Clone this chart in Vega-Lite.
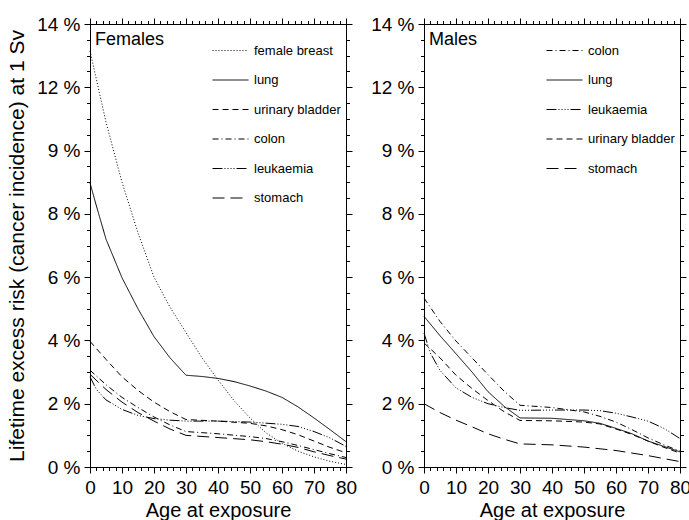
{
  "$schema": "https://vega.github.io/schema/vega-lite/v6.json",
  "padding": {"left": 6, "top": 14, "right": 0, "bottom": 3},
  "config": {
    "font": "Liberation Sans",
    "view": {"stroke": "black", "strokeWidth": 1},
    "axis": {"domainColor": "black", "tickColor": "black", "labelColor": "black", "titleColor": "black", "grid": false, "titleFontWeight": "normal", "domainWidth": 1, "tickWidth": 1},
    "legend": {"orient": "none", "title": null, "symbolType": "stroke", "symbolStrokeWidth": 1, "symbolStrokeColor": "black", "symbolSize": 1296, "labelFontSize": 13, "labelColor": "black", "labelFont": "Liberation Sans", "labelOffset": 5},
    "title": {"fontWeight": "normal", "color": "black", "fontSize": 18, "anchor": "start", "frame": "group"}
  },
  "datasets": {
    "risk": [
      {"sex":"Females","cancer":"female breast","age":0,"risk":13.15},
      {"sex":"Females","cancer":"female breast","age":5,"risk":10.9},
      {"sex":"Females","cancer":"female breast","age":10,"risk":9.0},
      {"sex":"Females","cancer":"female breast","age":15,"risk":7.4},
      {"sex":"Females","cancer":"female breast","age":20,"risk":6.0},
      {"sex":"Females","cancer":"female breast","age":25,"risk":5.05},
      {"sex":"Females","cancer":"female breast","age":30,"risk":4.25},
      {"sex":"Females","cancer":"female breast","age":35,"risk":3.45},
      {"sex":"Females","cancer":"female breast","age":40,"risk":2.75},
      {"sex":"Females","cancer":"female breast","age":45,"risk":2.1},
      {"sex":"Females","cancer":"female breast","age":50,"risk":1.55},
      {"sex":"Females","cancer":"female breast","age":55,"risk":1.08},
      {"sex":"Females","cancer":"female breast","age":60,"risk":0.75},
      {"sex":"Females","cancer":"female breast","age":65,"risk":0.5},
      {"sex":"Females","cancer":"female breast","age":70,"risk":0.32},
      {"sex":"Females","cancer":"female breast","age":75,"risk":0.18},
      {"sex":"Females","cancer":"female breast","age":80,"risk":0.08},

      {"sex":"Females","cancer":"lung","age":0,"risk":8.98},
      {"sex":"Females","cancer":"lung","age":2,"risk":8.25},
      {"sex":"Females","cancer":"lung","age":5,"risk":7.2},
      {"sex":"Females","cancer":"lung","age":10,"risk":5.98},
      {"sex":"Females","cancer":"lung","age":15,"risk":5.0},
      {"sex":"Females","cancer":"lung","age":20,"risk":4.12},
      {"sex":"Females","cancer":"lung","age":25,"risk":3.45},
      {"sex":"Females","cancer":"lung","age":30,"risk":2.9},
      {"sex":"Females","cancer":"lung","age":35,"risk":2.86},
      {"sex":"Females","cancer":"lung","age":40,"risk":2.8},
      {"sex":"Females","cancer":"lung","age":45,"risk":2.7},
      {"sex":"Females","cancer":"lung","age":50,"risk":2.56},
      {"sex":"Females","cancer":"lung","age":55,"risk":2.4},
      {"sex":"Females","cancer":"lung","age":60,"risk":2.2},
      {"sex":"Females","cancer":"lung","age":65,"risk":1.9},
      {"sex":"Females","cancer":"lung","age":70,"risk":1.55},
      {"sex":"Females","cancer":"lung","age":75,"risk":1.18},
      {"sex":"Females","cancer":"lung","age":80,"risk":0.8},

      {"sex":"Females","cancer":"urinary bladder","age":0,"risk":3.97},
      {"sex":"Females","cancer":"urinary bladder","age":5,"risk":3.4},
      {"sex":"Females","cancer":"urinary bladder","age":10,"risk":2.85},
      {"sex":"Females","cancer":"urinary bladder","age":15,"risk":2.42},
      {"sex":"Females","cancer":"urinary bladder","age":20,"risk":2.05},
      {"sex":"Females","cancer":"urinary bladder","age":25,"risk":1.75},
      {"sex":"Females","cancer":"urinary bladder","age":30,"risk":1.5},
      {"sex":"Females","cancer":"urinary bladder","age":40,"risk":1.45},
      {"sex":"Females","cancer":"urinary bladder","age":50,"risk":1.38},
      {"sex":"Females","cancer":"urinary bladder","age":55,"risk":1.3},
      {"sex":"Females","cancer":"urinary bladder","age":60,"risk":1.18},
      {"sex":"Females","cancer":"urinary bladder","age":65,"risk":1.02},
      {"sex":"Females","cancer":"urinary bladder","age":70,"risk":0.82},
      {"sex":"Females","cancer":"urinary bladder","age":75,"risk":0.62},
      {"sex":"Females","cancer":"urinary bladder","age":80,"risk":0.45},

      {"sex":"Females","cancer":"colon","age":0,"risk":3.06},
      {"sex":"Females","cancer":"colon","age":5,"risk":2.6},
      {"sex":"Females","cancer":"colon","age":10,"risk":2.2},
      {"sex":"Females","cancer":"colon","age":15,"risk":1.88},
      {"sex":"Females","cancer":"colon","age":20,"risk":1.58},
      {"sex":"Females","cancer":"colon","age":25,"risk":1.33},
      {"sex":"Females","cancer":"colon","age":30,"risk":1.12},
      {"sex":"Females","cancer":"colon","age":40,"risk":1.05},
      {"sex":"Females","cancer":"colon","age":50,"risk":0.96},
      {"sex":"Females","cancer":"colon","age":55,"risk":0.9},
      {"sex":"Females","cancer":"colon","age":60,"risk":0.8},
      {"sex":"Females","cancer":"colon","age":65,"risk":0.68},
      {"sex":"Females","cancer":"colon","age":70,"risk":0.55},
      {"sex":"Females","cancer":"colon","age":75,"risk":0.42},
      {"sex":"Females","cancer":"colon","age":80,"risk":0.3},

      {"sex":"Females","cancer":"leukaemia","age":0,"risk":2.85},
      {"sex":"Females","cancer":"leukaemia","age":2,"risk":2.45},
      {"sex":"Females","cancer":"leukaemia","age":5,"risk":2.12},
      {"sex":"Females","cancer":"leukaemia","age":10,"risk":1.82},
      {"sex":"Females","cancer":"leukaemia","age":15,"risk":1.63},
      {"sex":"Females","cancer":"leukaemia","age":20,"risk":1.53},
      {"sex":"Females","cancer":"leukaemia","age":25,"risk":1.48},
      {"sex":"Females","cancer":"leukaemia","age":30,"risk":1.45},
      {"sex":"Females","cancer":"leukaemia","age":40,"risk":1.45},
      {"sex":"Females","cancer":"leukaemia","age":50,"risk":1.42},
      {"sex":"Females","cancer":"leukaemia","age":60,"risk":1.35},
      {"sex":"Females","cancer":"leukaemia","age":65,"risk":1.28},
      {"sex":"Females","cancer":"leukaemia","age":70,"risk":1.12},
      {"sex":"Females","cancer":"leukaemia","age":75,"risk":0.92},
      {"sex":"Females","cancer":"leukaemia","age":80,"risk":0.65},

      {"sex":"Females","cancer":"stomach","age":0,"risk":2.93},
      {"sex":"Females","cancer":"stomach","age":5,"risk":2.45},
      {"sex":"Females","cancer":"stomach","age":10,"risk":2.05},
      {"sex":"Females","cancer":"stomach","age":15,"risk":1.72},
      {"sex":"Females","cancer":"stomach","age":20,"risk":1.45},
      {"sex":"Females","cancer":"stomach","age":25,"risk":1.2},
      {"sex":"Females","cancer":"stomach","age":30,"risk":1.0},
      {"sex":"Females","cancer":"stomach","age":40,"risk":0.93},
      {"sex":"Females","cancer":"stomach","age":50,"risk":0.86},
      {"sex":"Females","cancer":"stomach","age":55,"risk":0.8},
      {"sex":"Females","cancer":"stomach","age":60,"risk":0.72},
      {"sex":"Females","cancer":"stomach","age":65,"risk":0.62},
      {"sex":"Females","cancer":"stomach","age":70,"risk":0.48},
      {"sex":"Females","cancer":"stomach","age":75,"risk":0.36},
      {"sex":"Females","cancer":"stomach","age":80,"risk":0.25},

      {"sex":"Males","cancer":"colon","age":0,"risk":5.34},
      {"sex":"Males","cancer":"colon","age":5,"risk":4.6},
      {"sex":"Males","cancer":"colon","age":10,"risk":3.98},
      {"sex":"Males","cancer":"colon","age":15,"risk":3.45},
      {"sex":"Males","cancer":"colon","age":20,"risk":2.92},
      {"sex":"Males","cancer":"colon","age":25,"risk":2.4},
      {"sex":"Males","cancer":"colon","age":30,"risk":1.95},
      {"sex":"Males","cancer":"colon","age":40,"risk":1.88},
      {"sex":"Males","cancer":"colon","age":50,"risk":1.74},
      {"sex":"Males","cancer":"colon","age":55,"risk":1.6},
      {"sex":"Males","cancer":"colon","age":60,"risk":1.42},
      {"sex":"Males","cancer":"colon","age":65,"risk":1.18},
      {"sex":"Males","cancer":"colon","age":70,"risk":0.92},
      {"sex":"Males","cancer":"colon","age":75,"risk":0.7},
      {"sex":"Males","cancer":"colon","age":80,"risk":0.5},

      {"sex":"Males","cancer":"lung","age":0,"risk":4.76},
      {"sex":"Males","cancer":"lung","age":5,"risk":4.15},
      {"sex":"Males","cancer":"lung","age":10,"risk":3.58},
      {"sex":"Males","cancer":"lung","age":15,"risk":3.0},
      {"sex":"Males","cancer":"lung","age":20,"risk":2.38},
      {"sex":"Males","cancer":"lung","age":25,"risk":1.92},
      {"sex":"Males","cancer":"lung","age":30,"risk":1.55},
      {"sex":"Males","cancer":"lung","age":40,"risk":1.54},
      {"sex":"Males","cancer":"lung","age":50,"risk":1.46},
      {"sex":"Males","cancer":"lung","age":55,"risk":1.38},
      {"sex":"Males","cancer":"lung","age":60,"risk":1.22},
      {"sex":"Males","cancer":"lung","age":65,"risk":1.05},
      {"sex":"Males","cancer":"lung","age":70,"risk":0.82},
      {"sex":"Males","cancer":"lung","age":75,"risk":0.65},
      {"sex":"Males","cancer":"lung","age":80,"risk":0.48},

      {"sex":"Males","cancer":"leukaemia","age":0,"risk":4.23},
      {"sex":"Males","cancer":"leukaemia","age":2,"risk":3.6},
      {"sex":"Males","cancer":"leukaemia","age":5,"risk":3.05},
      {"sex":"Males","cancer":"leukaemia","age":10,"risk":2.5},
      {"sex":"Males","cancer":"leukaemia","age":15,"risk":2.2},
      {"sex":"Males","cancer":"leukaemia","age":20,"risk":2.0},
      {"sex":"Males","cancer":"leukaemia","age":25,"risk":1.88},
      {"sex":"Males","cancer":"leukaemia","age":30,"risk":1.79},
      {"sex":"Males","cancer":"leukaemia","age":40,"risk":1.8},
      {"sex":"Males","cancer":"leukaemia","age":50,"risk":1.8},
      {"sex":"Males","cancer":"leukaemia","age":55,"risk":1.78},
      {"sex":"Males","cancer":"leukaemia","age":60,"risk":1.7},
      {"sex":"Males","cancer":"leukaemia","age":65,"risk":1.58},
      {"sex":"Males","cancer":"leukaemia","age":70,"risk":1.45},
      {"sex":"Males","cancer":"leukaemia","age":75,"risk":1.22},
      {"sex":"Males","cancer":"leukaemia","age":80,"risk":0.9},

      {"sex":"Males","cancer":"urinary bladder","age":0,"risk":3.92},
      {"sex":"Males","cancer":"urinary bladder","age":5,"risk":3.45},
      {"sex":"Males","cancer":"urinary bladder","age":10,"risk":2.9},
      {"sex":"Males","cancer":"urinary bladder","age":15,"risk":2.48},
      {"sex":"Males","cancer":"urinary bladder","age":20,"risk":2.1},
      {"sex":"Males","cancer":"urinary bladder","age":25,"risk":1.75},
      {"sex":"Males","cancer":"urinary bladder","age":30,"risk":1.47},
      {"sex":"Males","cancer":"urinary bladder","age":40,"risk":1.46},
      {"sex":"Males","cancer":"urinary bladder","age":50,"risk":1.42},
      {"sex":"Males","cancer":"urinary bladder","age":55,"risk":1.36},
      {"sex":"Males","cancer":"urinary bladder","age":60,"risk":1.2},
      {"sex":"Males","cancer":"urinary bladder","age":65,"risk":1.03},
      {"sex":"Males","cancer":"urinary bladder","age":70,"risk":0.82},
      {"sex":"Males","cancer":"urinary bladder","age":75,"risk":0.62},
      {"sex":"Males","cancer":"urinary bladder","age":80,"risk":0.44},

      {"sex":"Males","cancer":"stomach","age":0,"risk":2.0},
      {"sex":"Males","cancer":"stomach","age":5,"risk":1.72},
      {"sex":"Males","cancer":"stomach","age":10,"risk":1.48},
      {"sex":"Males","cancer":"stomach","age":15,"risk":1.27},
      {"sex":"Males","cancer":"stomach","age":20,"risk":1.05},
      {"sex":"Males","cancer":"stomach","age":25,"risk":0.88},
      {"sex":"Males","cancer":"stomach","age":30,"risk":0.73},
      {"sex":"Males","cancer":"stomach","age":40,"risk":0.7},
      {"sex":"Males","cancer":"stomach","age":50,"risk":0.63},
      {"sex":"Males","cancer":"stomach","age":60,"risk":0.52},
      {"sex":"Males","cancer":"stomach","age":70,"risk":0.36},
      {"sex":"Males","cancer":"stomach","age":80,"risk":0.17}
    ]
  },
  "data": {"name": "risk"},
  "spacing": 12,
  "hconcat": [
    {
      "width": 256, "height": 443,
      "title": {"text": "Females", "offset": -34, "dx": 5},
      "transform": [{"filter": "datum.sex === 'Females'"}],
      "layer": [
        {
          "mark": {"type": "line", "color": "black", "strokeWidth": 1},
          "encoding": {
            "x": {"field": "age", "type": "quantitative", "scale": {"domain": [0, 80], "nice": false},
                  "axis": {"orient": "bottom", "values": [0,10,20,30,40,50,60,70,80], "tickSize": 6, "labelFontSize": 19, "labelFlush": false, "labelOverlap": false, "labelPadding": 5, "title": "Age at exposure", "titleFontSize": 20, "titlePadding": 3}},
            "y": {"field": "risk", "type": "quantitative", "scale": {"domain": [0, 14], "nice": false},
                  "axis": {"orient": "left", "values": [0,2,4,6,8,10,12,14], "labelExpr": "datum.value == 10 ? '9 %' : datum.value + ' %'", "tickSize": 6, "labelFontSize": 19, "labelPadding": 4, "labelOverlap": false, "title": "Lifetime excess risk (cancer incidence) at 1 Sv", "titleFontSize": 21, "titlePadding": 9}},
            "strokeDash": {"field": "cancer", "type": "nominal",
                  "scale": {"domain": ["female breast", "lung", "urinary bladder", "colon", "leukaemia", "stomach"],
                            "range": [[1,2],[1,0],[6,4],[6,3,1,3],[10,2,1,2,1,2,1,2,1,2],[12,6]]},
                  "legend": {"legendX": 122, "legendY": 8, "rowPadding": 3.5}}
          }
        },
        {
          "mark": {"type": "point", "opacity": 0},
          "encoding": {
            "x": {"field": "age", "type": "quantitative", "axis": {"orient": "bottom", "values": [0,2,4,6,8,10,12,14,16,18,20,22,24,26,28,30,32,34,36,38,40,42,44,46,48,50,52,54,56,58,60,62,64,66,68,70,72,74,76,78,80], "tickSize": 3.5, "labels": false, "domain": false, "title": null}},
            "y": {"field": "risk", "type": "quantitative", "axis": {"orient": "left", "values": [0,0.5,1,1.5,2,2.5,3,3.5,4,4.5,5,5.5,6,6.5,7,7.5,8,8.5,9,9.5,10,10.5,11,11.5,12,12.5,13,13.5,14], "tickSize": 3.5, "labels": false, "domain": false, "title": null}}
          }
        },
        {
          "mark": {"type": "point", "opacity": 0},
          "encoding": {
            "x": {"field": "age", "type": "quantitative", "axis": {"orient": "top", "values": [0,10,20,30,40,50,60,70,80], "tickSize": 6, "labels": false, "title": null}},
            "y": {"field": "risk", "type": "quantitative", "axis": {"orient": "right", "values": [0,2,4,6,8,10,12,14], "tickSize": 6, "labels": false, "title": null}}
          }
        },
        {
          "mark": {"type": "point", "opacity": 0},
          "encoding": {
            "x": {"field": "age", "type": "quantitative", "axis": {"orient": "top", "values": [0,2,4,6,8,10,12,14,16,18,20,22,24,26,28,30,32,34,36,38,40,42,44,46,48,50,52,54,56,58,60,62,64,66,68,70,72,74,76,78,80], "tickSize": 3.5, "labels": false, "domain": false, "title": null}},
            "y": {"field": "risk", "type": "quantitative", "axis": {"orient": "right", "values": [0,0.5,1,1.5,2,2.5,3,3.5,4,4.5,5,5.5,6,6.5,7,7.5,8,8.5,9,9.5,10,10.5,11,11.5,12,12.5,13,13.5,14], "tickSize": 3.5, "labels": false, "domain": false, "title": null}}
          }
        }
      ],
      "resolve": {"axis": {"x": "independent", "y": "independent"}}
    },
    {
      "width": 256, "height": 443,
      "title": {"text": "Males", "offset": -34, "dx": 5},
      "transform": [{"filter": "datum.sex === 'Males'"}],
      "layer": [
        {
          "mark": {"type": "line", "color": "black", "strokeWidth": 1},
          "encoding": {
            "x": {"field": "age", "type": "quantitative", "scale": {"domain": [0, 80], "nice": false},
                  "axis": {"orient": "bottom", "values": [0,10,20,30,40,50,60,70,80], "tickSize": 6, "labelFontSize": 19, "labelFlush": false, "labelOverlap": false, "labelPadding": 5, "title": "Age at exposure", "titleFontSize": 20, "titlePadding": 3}},
            "y": {"field": "risk", "type": "quantitative", "scale": {"domain": [0, 14], "nice": false},
                  "axis": {"orient": "left", "values": [0,2,4,6,8,10,12,14], "labelExpr": "datum.value == 10 ? '9 %' : datum.value + ' %'", "tickSize": 6, "labelFontSize": 19, "labelPadding": 4, "labelOverlap": false, "title": null}},
            "strokeDash": {"field": "cancer", "type": "nominal",
                  "scale": {"domain": ["colon", "lung", "leukaemia", "urinary bladder", "stomach"],
                            "range": [[6,3,1,3],[1,0],[10,2,1,2,1,2,1,2,1,2],[6,4],[12,6]]},
                  "legend": {"legendX": 122, "legendY": 8, "rowPadding": 3.5}}
          }
        },
        {
          "mark": {"type": "point", "opacity": 0},
          "encoding": {
            "x": {"field": "age", "type": "quantitative", "axis": {"orient": "bottom", "values": [0,2,4,6,8,10,12,14,16,18,20,22,24,26,28,30,32,34,36,38,40,42,44,46,48,50,52,54,56,58,60,62,64,66,68,70,72,74,76,78,80], "tickSize": 3.5, "labels": false, "domain": false, "title": null}},
            "y": {"field": "risk", "type": "quantitative", "axis": {"orient": "left", "values": [0,0.5,1,1.5,2,2.5,3,3.5,4,4.5,5,5.5,6,6.5,7,7.5,8,8.5,9,9.5,10,10.5,11,11.5,12,12.5,13,13.5,14], "tickSize": 3.5, "labels": false, "domain": false, "title": null}}
          }
        },
        {
          "mark": {"type": "point", "opacity": 0},
          "encoding": {
            "x": {"field": "age", "type": "quantitative", "axis": {"orient": "top", "values": [0,10,20,30,40,50,60,70,80], "tickSize": 6, "labels": false, "title": null}},
            "y": {"field": "risk", "type": "quantitative", "axis": {"orient": "right", "values": [0,2,4,6,8,10,12,14], "tickSize": 6, "labels": false, "title": null}}
          }
        },
        {
          "mark": {"type": "point", "opacity": 0},
          "encoding": {
            "x": {"field": "age", "type": "quantitative", "axis": {"orient": "top", "values": [0,2,4,6,8,10,12,14,16,18,20,22,24,26,28,30,32,34,36,38,40,42,44,46,48,50,52,54,56,58,60,62,64,66,68,70,72,74,76,78,80], "tickSize": 3.5, "labels": false, "domain": false, "title": null}},
            "y": {"field": "risk", "type": "quantitative", "axis": {"orient": "right", "values": [0,0.5,1,1.5,2,2.5,3,3.5,4,4.5,5,5.5,6,6.5,7,7.5,8,8.5,9,9.5,10,10.5,11,11.5,12,12.5,13,13.5,14], "tickSize": 3.5, "labels": false, "domain": false, "title": null}}
          }
        }
      ],
      "resolve": {"axis": {"x": "independent", "y": "independent"}}
    }
  ],
  "resolve": {"scale": {"strokeDash": "independent", "x": "independent", "y": "independent"}, "legend": {"strokeDash": "independent"}}
}
